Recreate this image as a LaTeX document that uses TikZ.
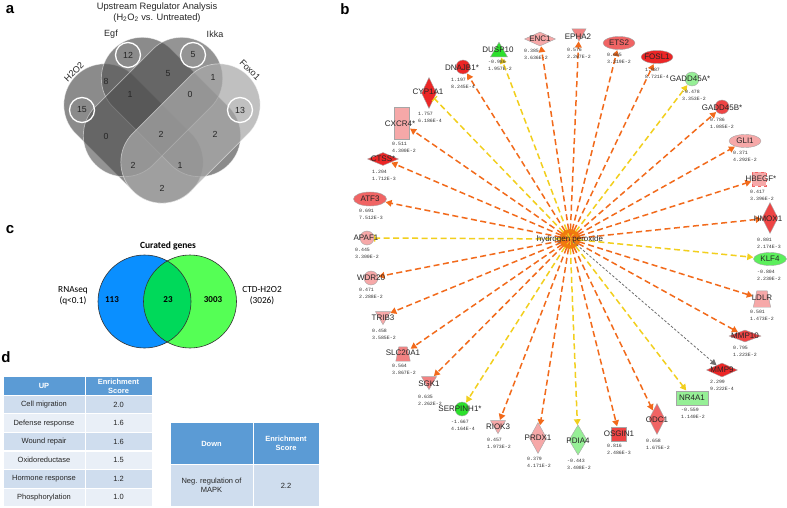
\documentclass[tikz,border=0pt]{standalone}
\usepackage{fontspec}
\setmainfont{Liberation Sans}
\newfontfamily\monof{Liberation Mono}
\newfontfamily\calib{Carlito}
\usetikzlibrary{shapes.geometric,arrows.meta}

\definecolor{edgeor}{HTML}{F26A1B}
\definecolor{edgeye}{HTML}{F2CF1D}
\definecolor{edgegr}{HTML}{6E6E6E}
\definecolor{nred}{HTML}{EC2626}
\definecolor{nredb}{HTML}{EE4444}
\definecolor{nredc}{HTML}{F06464}
\definecolor{nsalm}{HTML}{F28282}
\definecolor{npink}{HTML}{F6A8A8}
\definecolor{ngreen}{HTML}{2CE02C}
\definecolor{nmgreen}{HTML}{5CEF5C}
\definecolor{nlgreen}{HTML}{96EF96}
\definecolor{hubor}{HTML}{F07C0C}
\definecolor{tblhead}{HTML}{5B9BD5}
\definecolor{tblrowA}{HTML}{CFDDEE}
\definecolor{tblrowB}{HTML}{E9EFF7}
\definecolor{vblue}{HTML}{0A8FFF}
\definecolor{vgreen}{HTML}{55FF55}
\definecolor{vmid}{HTML}{00D95A}
\definecolor{vgrayH}{HTML}{5A5A5A}
\definecolor{vgrayI}{HTML}{4E4E4E}
\definecolor{vgrayF}{HTML}{A8A8A8}

\tikzset{
  plabel/.style={font=\bfseries\fontsize{15}{15}\selectfont, inner sep=0pt},
  venn/.style={rectangle, rounded corners=40.9pt, minimum width=163pt, minimum height=82pt, inner sep=0pt, draw=white, draw opacity=0.5, line width=0.7pt},
  vnum/.style={font=\fontsize{8.8}{8.8}\selectfont, text=black!85, inner sep=0pt},
  vring/.style={circle, draw=white, line width=1.3pt, minimum size=25pt, inner sep=0pt},
  vlab/.style={font=\fontsize{9}{9}\selectfont, text=black!85, inner sep=0pt},
  gnode/.style={draw=black!35, line width=0.4pt, inner sep=0pt},
  gdia/.style={gnode, diamond},
  gell/.style={gnode, ellipse},
  gcirc/.style={gnode, circle, minimum size=14pt},
  grect/.style={gnode, rectangle},
  gtriup/.style={gnode, regular polygon, regular polygon sides=3},
  gtridn/.style={gtriup, shape border rotate=180},
  gbox/.style={rectangle, inner sep=0pt},
  gtrapline/.style={draw=black!35, line width=0.4pt},
  glab/.style={font=\fontsize{8}{8}\selectfont, text=black!85, inner sep=0pt},
  gval/.style={font=\monof\fontsize{4.9}{6.8}\selectfont, text=black!80, align=left, anchor=north west, inner sep=0pt},
  eor/.style={draw=edgeor, line width=1.5pt, dash pattern=on 6pt off 3.5pt, -{Triangle[length=6pt,width=6.5pt]}, shorten >=0.5pt},
  eye/.style={eor, draw=edgeye},
  eyebar/.style={draw=edgeye, line width=1.5pt, dash pattern=on 6pt off 3.5pt, -{Bar[width=7pt,line width=1.2pt]}},
  egr/.style={draw=edgegr, line width=0.8pt, dash pattern=on 2.5pt off 1.8pt, -{Triangle[length=6pt,width=6pt]}},
  cgt/.style={font=\calib\fontsize{9.3}{11}\selectfont, align=center, inner sep=0pt},
  cell/.style={rectangle, draw=white, line width=1pt, inner sep=0pt, font=\fontsize{7.5}{9}\selectfont, text=black!85, align=center},
  hcell/.style={cell, fill=tblhead, text=white, font=\bfseries\fontsize{7.5}{9}\selectfont}
}

\begin{document}
\begin{tikzpicture}[x=1pt,y=-1pt]
\fill[white] (0,0) rectangle (787,508);
\useasboundingbox (0,0) rectangle (787,508);

% ---------- panel labels
\node[plabel] (la) at (10,10) {a};
\node[plabel] (lb) at (345,9) {b};
\node[plabel] (lc) at (10,230) {c};
\node[plabel] (ld) at (6,357) {d};

% ---------- panel a
\node[font=\fontsize{9.3}{9.3}\selectfont, text=black!85, inner sep=0pt] (atitle1) at (157,7) {Upstream Regulator Analysis};
\node[font=\fontsize{9.3}{9.3}\selectfont, text=black!85, inner sep=0pt] (atitle2) at (157,18) {(H\textsubscript{2}O\textsubscript{2} vs. Untreated)};

\node[venn, fill=vgrayH, fill opacity=0.7, rotate=-45] (vH) at (133.5,133.5) {};
\node[venn, fill=vgrayH, fill opacity=0.7, rotate=-45] (vE) at (171,107) {};
\node[venn, fill=vgrayI, fill opacity=0.6, rotate=45] (vI) at (153,107) {};
\node[venn, fill=vgrayF, fill opacity=0.72, rotate=45] (vF) at (190.5,133.5) {};

\node[vlab] (tEgf) at (111,34) {Egf};
\node[vlab] (tIkka) at (215,34) {Ikka};
\node[vlab, rotate=45] (tH) at (74,72) {H2O2};
\node[vlab, rotate=-45] (tF) at (250,70) {Foxo1};

\node[vring] (r12) at (128,55) {};
\node[vring] (r5) at (193,55) {};
\node[vring] (r15) at (82,110) {};
\node[vring] (r13) at (240,110) {};

\node[vnum] (n12) at (128,55) {12};
\node[vnum] (n5a) at (193,55) {5};
\node[vnum] (n8) at (106,81) {8};
\node[vnum] (n5b) at (168,74) {5};
\node[vnum] (n1a) at (213,77) {1};
\node[vnum] (n15) at (82,110) {15};
\node[vnum] (n1b) at (130,94) {1};
\node[vnum] (n0a) at (190,94) {0};
\node[vnum] (n13) at (240,110) {13};
\node[vnum] (n0b) at (106,136) {0};
\node[vnum] (n2a) at (161,134) {2};
\node[vnum] (n2b) at (215,134) {2};
\node[vnum] (n2c) at (133,165) {2};
\node[vnum] (n1c) at (180,165) {1};
\node[vnum] (n2d) at (162,188) {2};

% ---------- panel c
\node[font=\calib\bfseries\fontsize{9.5}{9.5}\selectfont, inner sep=0pt] (ctitle) at (168,246) {Curated genes};
\fill[vblue] (144.5,301.5) circle[radius=46.5pt];
\fill[vgreen] (190,301.5) circle[radius=46.5pt];
\begin{scope}
  \clip (144.5,301.5) circle[radius=46.5pt];
  \fill[vmid] (190,301.5) circle[radius=46.5pt];
\end{scope}
\draw[line width=0.6pt, black!80] (144.5,301.5) circle[radius=46.5pt];
\draw[line width=0.6pt, black!80] (190,301.5) circle[radius=46.5pt];
\node[font=\calib\bfseries\fontsize{9}{9}\selectfont, inner sep=0pt] (c113) at (112,300) {113};
\node[font=\calib\bfseries\fontsize{9}{9}\selectfont, inner sep=0pt] (c23) at (168,300) {23};
\node[font=\calib\bfseries\fontsize{9}{9}\selectfont, inner sep=0pt] (c3003) at (213,300) {3003};
\node[cgt] (crna) at (73,296) {RNAseq\\(q<0.1)};
\node[cgt] (cctd) at (262,296) {CTD-H2O2\\(3026)};

% ---------- panel d : UP table
\node[hcell, minimum width=82pt, minimum height=18.6pt] (tu0a) at (44,386) {UP};
\node[hcell, minimum width=67pt, minimum height=18.6pt] (tu0b) at (118.5,386) {Enrichment\\Score};
\node[cell, fill=tblrowA, minimum width=82pt, minimum height=18.57pt] (tu1a) at (44,404.6) {Cell migration};
\node[cell, fill=tblrowA, minimum width=67pt, minimum height=18.57pt] (tu1b) at (118.5,404.6) {2.0};
\node[cell, fill=tblrowB, minimum width=82pt, minimum height=18.57pt] (tu2a) at (44,423.2) {Defense response};
\node[cell, fill=tblrowB, minimum width=67pt, minimum height=18.57pt] (tu2b) at (118.5,423.2) {1.6};
\node[cell, fill=tblrowA, minimum width=82pt, minimum height=18.57pt] (tu3a) at (44,441.7) {Wound repair};
\node[cell, fill=tblrowA, minimum width=67pt, minimum height=18.57pt] (tu3b) at (118.5,441.7) {1.6};
\node[cell, fill=tblrowB, minimum width=82pt, minimum height=18.57pt] (tu4a) at (44,460.3) {Oxidoreductase};
\node[cell, fill=tblrowB, minimum width=67pt, minimum height=18.57pt] (tu4b) at (118.5,460.3) {1.5};
\node[cell, fill=tblrowA, minimum width=82pt, minimum height=18.57pt] (tu5a) at (44,478.9) {Hormone response};
\node[cell, fill=tblrowA, minimum width=67pt, minimum height=18.57pt] (tu5b) at (118.5,478.9) {1.2};
\node[cell, fill=tblrowB, minimum width=82pt, minimum height=18.57pt] (tu6a) at (44,497.4) {Phosphorylation};
\node[cell, fill=tblrowB, minimum width=67pt, minimum height=18.57pt] (tu6b) at (118.5,497.4) {1.0};

% ---------- panel d : Down table
\node[hcell, minimum width=83pt, minimum height=41.6pt] (td0a) at (211.5,443.5) {Down};
\node[hcell, minimum width=66pt, minimum height=41.6pt] (td0b) at (286,443.5) {Enrichment\\Score};
\node[cell, fill=tblrowA, minimum width=83pt, minimum height=42.4pt] (td1a) at (211.5,485.5) {Neg. regulation of\\MAPK};
\node[cell, fill=tblrowA, minimum width=66pt, minimum height=42.4pt] (td1b) at (286,485.5) {2.2};

% ---------- panel b : hub and gene nodes
\node[circle, fill=hubor, minimum size=20pt, inner sep=0pt] (hub) at (570,239) {};

\node[gdia, fill=npink, minimum width=31pt, minimum height=14pt] (enc1) at (540,39) {};
\node[gtridn, fill=nsalm, minimum size=16.2pt] (epha2) at (579,33) {};
\node[gell, fill=nredc, minimum width=32pt, minimum height=13pt] (ets2) at (619,43) {};
\node[gell, fill=nred, minimum width=32pt, minimum height=13pt] (fosl1) at (657,57) {};
\node[gcirc, fill=nlgreen] (gadd45a) at (692,79) {};
\node[gcirc, fill=nredb] (gadd45b) at (722,107) {};
\node[gell, fill=npink, minimum width=32pt, minimum height=13pt] (gli1) at (745,141) {};
\node[grect, fill=npink, dashed, draw=nredc, minimum width=14pt, minimum height=14pt] (hbegf) at (759,179) {};
\node[gdia, fill=nredb, minimum width=16pt, minimum height=31pt] (hmox1) at (770,218) {};
\node[gell, fill=nmgreen, minimum width=33pt, minimum height=13pt] (klf4) at (770,259) {};
\node[gbox, minimum width=17pt, minimum height=16pt] (ldlr) at (762,299) {};
\filldraw[gtrapline, fill=npink] ([xshift=3.5pt]ldlr.north west) -- ([xshift=-3.5pt]ldlr.north east) -- (ldlr.south east) -- (ldlr.south west) -- cycle;
\node[gdia, fill=nredb, minimum width=32pt, minimum height=12pt] (mmp10) at (745,336) {};
\node[gdia, fill=nred, minimum width=31pt, minimum height=14pt] (mmp9) at (722,370) {};
\node[grect, fill=nlgreen, minimum width=32pt, minimum height=14pt] (nr4a1) at (692,398) {};
\node[gdia, fill=nredc, minimum width=16pt, minimum height=31pt] (odc1) at (657,419) {};
\node[grect, fill=nredb, minimum width=15pt, minimum height=14pt] (osgin1) at (619,434) {};
\node[gdia, fill=nlgreen, minimum width=18pt, minimum height=30pt] (pdia4) at (578,440) {};
\node[gdia, fill=npink, minimum width=17pt, minimum height=31pt] (prdx1) at (538,438) {};
\node[gtridn, fill=npink, minimum size=17.3pt] (riok3) at (498,425) {};
\node[gcirc, fill=ngreen] (serpinh1) at (462,409) {};
\node[gtridn, fill=nsalm, minimum size=17.3pt] (sgk1) at (429,381) {};
\node[gbox, minimum width=14pt, minimum height=14pt] (slc20a1) at (403,354) {};
\filldraw[gtrapline, fill=nsalm] ([xshift=3pt]slc20a1.north west) -- ([xshift=-3pt]slc20a1.north east) -- (slc20a1.south east) -- (slc20a1.south west) -- cycle;
\node[gtridn, fill=npink, minimum size=17.3pt] (trib3) at (383,316) {};
\node[gcirc, fill=npink] (wdr20) at (371,278) {};
\node[gcirc, fill=npink] (apaf1) at (367,238) {};
\node[gell, fill=nredc, minimum width=33pt, minimum height=14pt] (atf3) at (370,199) {};
\node[gdia, fill=nred, minimum width=31pt, minimum height=13pt] (ctss) at (383,159) {};
\node[grect, fill=npink, minimum width=15pt, minimum height=32pt] (cxcr4) at (402,123) {};
\node[gdia, fill=nred, minimum width=15pt, minimum height=31pt] (cyp1a1) at (429,93) {};
\node[gcirc, fill=nred] (dnajb1) at (463,67) {};
\node[gtriup, fill=ngreen, minimum size=19.6pt] (dusp10) at (499,52) {};

% ---------- panel b : edges
\draw[eor] (hub.center) -- (enc1);
\draw[eor] (hub.center) -- (epha2);
\draw[eor] (hub.center) -- (ets2);
\draw[eor] (hub.center) -- (fosl1);
\draw[eye] (hub.center) -- (gadd45a);
\draw[eor] (hub.center) -- (gadd45b);
\draw[eor] (hub.center) -- (gli1);
\draw[eor] (hub.center) -- (hbegf);
\draw[eor] (hub.center) -- (hmox1);
\draw[eye] (hub.center) -- (klf4);
\draw[eor] (hub.center) -- (ldlr);
\draw[eor] (hub.center) -- (mmp10);
\draw[egr] (hub.center) -- (mmp9);
\draw[eye] (hub.center) -- (nr4a1);
\draw[eor] (hub.center) -- (odc1);
\draw[eor] (hub.center) -- (osgin1);
\draw[eye] (hub.center) -- (pdia4);
\draw[eor] (hub.center) -- (prdx1);
\draw[eor] (hub.center) -- (riok3);
\draw[eye] (hub.center) -- (serpinh1);
\draw[eor] (hub.center) -- (sgk1);
\draw[eor] (hub.center) -- (slc20a1);
\draw[eor] (hub.center) -- (trib3);
\draw[eor] (hub.center) -- (wdr20);
\draw[eyebar] (hub.center) -- (apaf1);
\draw[eor] (hub.center) -- (atf3);
\draw[eor] (hub.center) -- (ctss);
\draw[eor] (hub.center) -- (cxcr4);
\draw[eyebar] (hub.center) -- (cyp1a1);
\draw[eor] (hub.center) -- (dnajb1);
\draw[eye] (hub.center) -- (dusp10);

% ---------- panel b : labels
\node[glab] (hublab) at (570,239) {hydrogen peroxide};
\node[glab] (tenc1) at (540,39) {ENC1};
\node[glab] (tepha2) at (578,37) {EPHA2};
\node[glab] (tets2) at (619,43) {ETS2};
\node[glab] (tfosl1) at (657,57) {FOSL1};
\node[glab] (tgadd45a) at (690,79) {GADD45A*};
\node[glab] (tgadd45b) at (722,108) {GADD45B*};
\node[glab] (tgli1) at (745,141) {GLI1};
\node[glab] (thbegf) at (761,179) {HBEGF*};
\node[glab] (thmox1) at (768,219) {HMOX1};
\node[glab] (tklf4) at (770,259) {KLF4};
\node[glab] (tldlr) at (762,298) {LDLR};
\node[glab] (tmmp10) at (745,336) {MMP10};
\node[glab] (tmmp9) at (722,370) {MMP9};
\node[glab] (tnr4a1) at (692,398) {NR4A1};
\node[glab] (todc1) at (657,420) {ODC1};
\node[glab] (tosgin1) at (619,434) {OSGIN1};
\node[glab] (tpdia4) at (578,441) {PDIA4};
\node[glab] (tprdx1) at (538,438) {PRDX1};
\node[glab] (triok3) at (498,427) {RIOK3};
\node[glab] (tserpinh1) at (460,409) {SERPINH1*};
\node[glab] (tsgk1) at (429,384) {SGK1};
\node[glab] (tslc20a1) at (403,353) {SLC20A1};
\node[glab] (ttrib3) at (383,318) {TRIB3};
\node[glab] (twdr20) at (371,278) {WDR20};
\node[glab] (tapaf1) at (366,238) {APAF1};
\node[glab] (tatf3) at (370,199) {ATF3};
\node[glab] (tctss) at (383,159) {CTSS*};
\node[glab] (tcxcr4) at (400,124) {CXCR4*};
\node[glab] (tcyp1a1) at (428,92) {CYP1A1};
\node[glab] (tdnajb1) at (462,68) {DNAJB1*};
\node[glab] (tdusp10) at (498,50) {DUSP10};

% ---------- panel b : values
\node[gval] (venc1) at (524,49.5) {0.385\\3.636E-2};
\node[gval] (vepha2) at (567,48.5) {0.576\\2.267E-2};
\node[gval] (vets2) at (607,53.5) {0.665\\3.319E-2};
\node[gval] (vfosl1) at (645,68.5) {1.087\\8.721E-4};
\node[gval] (vgadd45a) at (682,90.5) {-0.478\\3.353E-2};
\node[gval] (vgadd45b) at (710,118.5) {0.786\\1.085E-2};
\node[gval] (vgli1) at (733,151.5) {0.371\\4.292E-2};
\node[gval] (vhbegf) at (750,190.5) {0.417\\3.396E-2};
\node[gval] (vhmox1) at (757,238.5) {0.801\\2.174E-3};
\node[gval] (vklf4) at (757,270.5) {-0.804\\2.230E-2};
\node[gval] (vldlr) at (750,310.5) {0.501\\1.473E-2};
\node[gval] (vmmp10) at (733,346.5) {0.795\\1.223E-2};
\node[gval] (vmmp9) at (710,380.5) {2.299\\9.222E-4};
\node[gval] (vnr4a1) at (681,408.5) {-0.559\\1.140E-2};
\node[gval] (vodc1) at (646,439.5) {0.658\\1.675E-2};
\node[gval] (vosgin1) at (607,444.5) {0.816\\2.486E-3};
\node[gval] (vpdia4) at (567,459.5) {-0.443\\3.408E-2};
\node[gval] (vprdx1) at (527,457.5) {0.379\\4.171E-2};
\node[gval] (vriok3) at (487,438.5) {0.457\\1.973E-2};
\node[gval] (vserpinh1) at (451,420.5) {-1.667\\4.164E-4};
\node[gval] (vsgk1) at (418,395.5) {0.635\\2.262E-2};
\node[gval] (vslc20a1) at (392,364.5) {0.564\\3.867E-2};
\node[gval] (vtrib3) at (372,329.5) {0.458\\3.585E-2};
\node[gval] (vwdr20) at (359,288.5) {0.471\\2.288E-2};
\node[gval] (vapaf1) at (355,248.5) {0.445\\3.300E-2};
\node[gval] (vatf3) at (359,209.5) {0.691\\7.512E-3};
\node[gval] (vctss) at (372,170.5) {1.204\\1.712E-3};
\node[gval] (vcxcr4) at (392,142.5) {0.511\\4.300E-2};
\node[gval] (vcyp1a1) at (418,112.5) {1.757\\6.186E-4};
\node[gval] (vdnajb1) at (451,78.5) {1.197\\8.245E-4};
\node[gval] (vdusp10) at (488,60.5) {-0.986\\1.957E-2};
\end{tikzpicture}
\end{document}
